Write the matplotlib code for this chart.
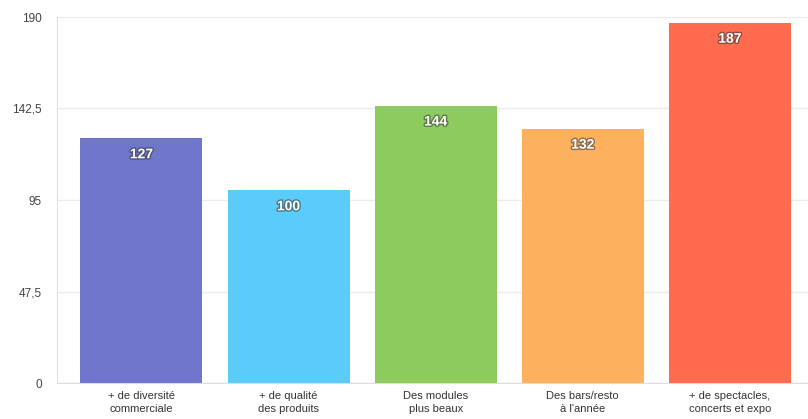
import matplotlib.pyplot as plt
import matplotlib.patheffects as pe

categories = ['+ de diversité\ncommerciale', '+ de qualité\ndes produits',
              'Des modules\nplus beaux', 'Des bars/resto\nà l\'année',
              '+ de spectacles,\nconcerts et expo']
votes = [127, 100, 144, 132, 187]
colors = ['#6F76CB', '#5BCBFA', '#8CCB5E', '#FDB15F', '#FE6B4E']
yticks = [0, 47.5, 95, 142.5, 190]
ytick_labels = ['0', '47,5', '95', '142,5', '190']

plt.rcParams['font.family'] = ['Liberation Sans', 'DejaVu Sans']

fig = plt.figure(figsize=(8.08, 4.19), dpi=100)
ax = fig.add_axes([57 / 808, 1 - 383 / 419, 1 - 57 / 808, (383 - 17) / 419])

x = range(len(votes))
bars = ax.bar(x, votes, width=0.83, color=colors, zorder=2)

for rect, v in zip(bars, votes):
    ax.annotate(str(v), (rect.get_x() + rect.get_width() / 2, v),
                xytext=(0, -16.5), textcoords='offset points',
                ha='center', va='bottom', color='white', fontsize=10,
                fontweight='bold', zorder=3,
                path_effects=[pe.withStroke(linewidth=2, foreground='#333333', alpha=0.55)])

ax.set_xlim(-0.574, 4.531)
ax.set_ylim(0, 190)
ax.set_yticks(yticks)
ax.set_yticklabels(ytick_labels)
ax.set_xticks(list(x))
ax.set_xticklabels(categories, fontsize=8, color='#333333', linespacing=1.3)
ax.tick_params(axis='y', length=0, pad=11, labelsize=8.5, labelcolor='#444444')
ax.tick_params(axis='x', length=0, pad=6)

ax.grid(axis='y', color='#ECECEC', linewidth=1, zorder=0)
for side in ('top', 'right'):
    ax.spines[side].set_visible(False)
ax.spines['left'].set_color('#DDDDDD')
ax.spines['bottom'].set_color('#DDDDDD')

plt.savefig('out.png', dpi=100)
